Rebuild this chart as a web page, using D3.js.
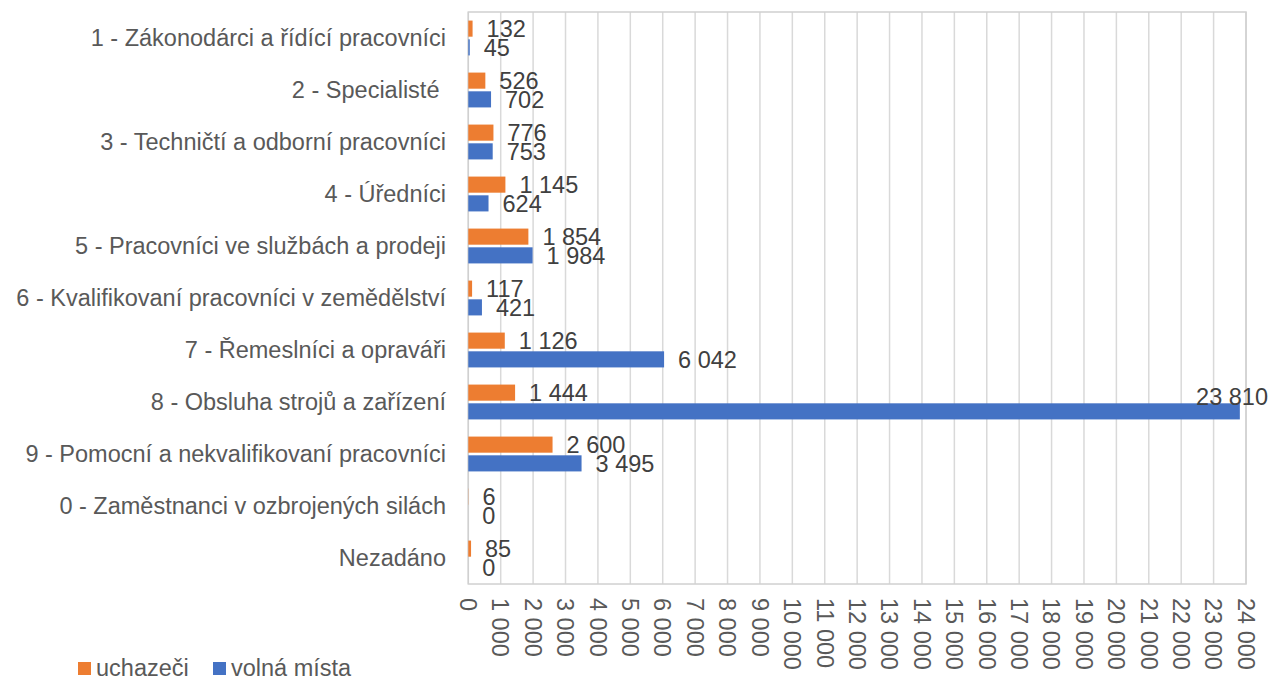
<!DOCTYPE html>
<html><head><meta charset="utf-8">
<script src="https://cdn.jsdelivr.net/npm/d3@7"></script>
<style>body{margin:0;background:#fff}svg{display:block;font-family:"Liberation Sans",Arial,sans-serif}</style>
</head><body><svg id="c" width="1269" height="677"></svg>
<script>
const categories = ["1 - Zákonodárci a řídící pracovníci","2 - Specialisté ","3 - Techničtí a odborní pracovníci","4 - Úředníci","5 - Pracovníci ve službách a prodeji","6 - Kvalifikovaní pracovníci v zemědělství","7 - Řemeslníci a opraváři","8 - Obsluha strojů a zařízení","9 - Pomocní a nekvalifikovaní pracovníci","0 - Zaměstnanci v ozbrojených silách","Nezadáno"];
const uchazeci = [132,526,776,1145,1854,117,1126,1444,2600,6,85];
const volnaMista = [45,702,753,624,1984,421,6042,23810,3495,0,0];
const seriesNames = ["uchazeči","volná místa"];
const seriesColors = ["#ED7D31","#4472C4"];
const xTicks = d3.range(0,24001,1000);

const svg = d3.select("#c");
const L=468.3, R=1246, T=12, B=584, W=1269;
const FS="23.5px";
const fmt = v => d3.format(",")(v).replace(/,/g," ");
const x = d3.scaleLinear().domain([0,24000]).range([L,R]);
const y0 = d3.scaleBand().domain(categories).range([T,B]).paddingInner(0.33).paddingOuter(0.165);
const y1 = d3.scaleBand().domain(seriesNames).range([0,y0.bandwidth()]).paddingInner(0.14);

// gridlines
svg.append("g").selectAll("line").data(xTicks).join("line")
  .attr("x1",d=>x(d)).attr("x2",d=>x(d)).attr("y1",T).attr("y2",B)
  .attr("stroke","#d9d9d9").attr("stroke-width",1.5);
svg.append("rect").attr("x",L).attr("y",T).attr("width",R-L).attr("height",B-T)
  .attr("fill","none").attr("stroke","#d0d0d0").attr("stroke-width",1.5);

// x tick labels rotated
svg.append("g").selectAll("text").data(xTicks).join("text")
  .attr("transform",d=>`translate(${x(d)},598) rotate(90)`)
  .attr("text-anchor","start").attr("dy","0.35em")
  .attr("fill","#595959").style("font-size",FS).text(d=>fmt(d));

// category labels
svg.append("g").selectAll("text").data(categories).join("text")
  .attr("x",446).attr("y",d=>y0(d)+y0.bandwidth()/2).attr("dy","0.35em")
  .attr("text-anchor","end").attr("fill","#595959").style("font-size",FS)
  .style("white-space","pre").text(d=>d);

const rows = categories.map((c,i)=>({c, vals:[uchazeci[i], volnaMista[i]]}));
const g = svg.append("g").selectAll("g").data(rows).join("g")
  .attr("transform",d=>`translate(0,${y0(d.c)})`);
const bars = g.selectAll("g").data(d=>d.vals.map((v,j)=>({v,j}))).join("g");
bars.append("rect")
  .attr("x",x(0)).attr("y",d=>y1(seriesNames[d.j]))
  .attr("width",d=>x(d.v)-x(0)).attr("height",y1.bandwidth())
  .attr("fill",d=>seriesColors[d.j]);
bars.append("text")
  .each(function(d){
    const t=d3.select(this);
    let tx=x(d.v)+14, ty=y1(seriesNames[d.j])+y1.bandwidth()/2, anchor="start";
    if (tx+75>W) { tx=W-1; anchor="end"; ty-=15; }
    t.attr("x",tx).attr("y",ty).attr("text-anchor",anchor);
  })
  .attr("dy","0.35em").attr("fill","#404040").style("font-size",FS).text(d=>fmt(d.v));

// legend
const lg = svg.append("g");
const lx=[78,213];
seriesNames.forEach((s,i)=>{
  lg.append("rect").attr("x",lx[i]).attr("y",662).attr("width",13).attr("height",13).attr("fill",seriesColors[i]);
  lg.append("text").attr("x",lx[i]+18).attr("y",667.5).attr("dy","0.35em").attr("fill","#595959")
    .style("font-size",FS).text(s);
});
</script></body></html>
